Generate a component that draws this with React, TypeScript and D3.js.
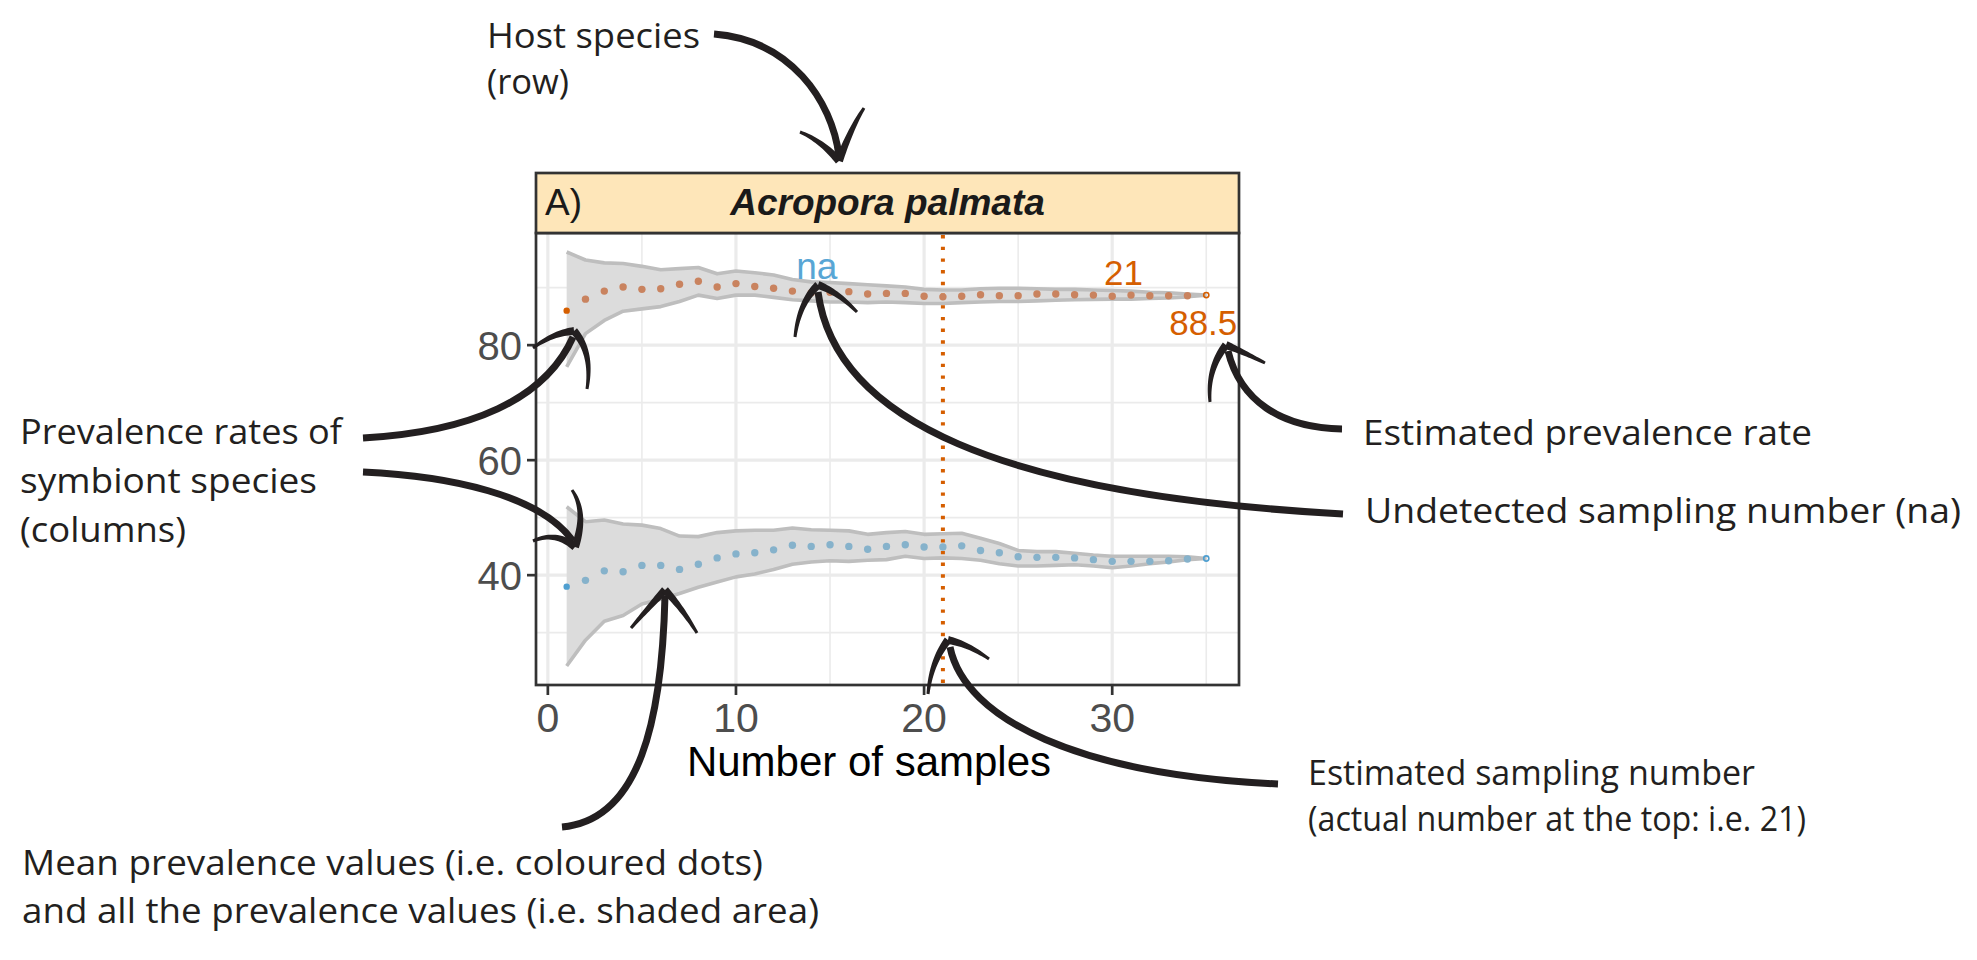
import React from "react";
import * as d3 from "d3";

// ---------- data ----------
const samples = [1, 2, 3, 4, 5, 6, 7, 8, 9, 10, 11, 12, 13, 14, 15, 16, 17, 18, 19, 20, 21, 22, 23, 24, 25, 26, 27, 28, 29, 30, 31, 32, 33, 34, 35];

const orangeMean = [86.0, 88.0, 89.4, 90.1, 89.7, 89.8, 90.6, 91.1, 90.1, 90.7, 90.2, 89.9, 89.4, 89.1, 89.2, 89.3, 88.9, 89.0, 89.0, 88.5, 88.4, 88.5, 88.75, 88.6, 88.6, 88.9, 88.9, 88.75, 88.7, 88.5, 88.7, 88.6, 88.6, 88.6, 88.7];
const orangeUpper = [96.2, 94.8, 94.3, 94.2, 93.7, 93.1, 93.3, 93.5, 92.4, 92.9, 92.6, 92.2, 91.4, 91.0, 90.9, 90.7, 90.5, 90.3, 90.1, 89.7, 89.6, 89.6, 89.8, 89.9, 89.9, 89.8, 89.7, 89.7, 89.6, 89.5, 89.4, 89.2, 89.1, 88.9, 88.7];
const orangeLower = [76.2, 82.0, 84.3, 85.9, 86.3, 86.7, 87.6, 88.7, 88.1, 88.7, 88.7, 88.3, 87.9, 87.7, 87.5, 87.5, 87.4, 87.5, 87.4, 87.25, 87.25, 87.4, 87.5, 87.6, 87.6, 87.7, 87.8, 87.9, 87.95, 88.0, 88.0, 88.1, 88.2, 88.4, 88.7];

const blueMean = [38.0, 39.1, 40.75, 40.6, 41.7, 41.7, 41.0, 41.9, 43.0, 43.7, 43.9, 44.4, 45.2, 45.0, 45.3, 45.0, 44.5, 45.0, 45.3, 44.9, 44.9, 45.1, 44.3, 43.9, 43.2, 43.1, 43.1, 43.0, 42.7, 42.4, 42.4, 42.4, 42.5, 42.8, 42.9];
const blueUpper = [51.9, 49.3, 49.6, 48.9, 48.7, 48.1, 46.8, 46.7, 47.4, 47.7, 47.8, 47.8, 48.2, 47.9, 47.8, 47.7, 47.1, 47.4, 47.6, 47.1, 47.2, 47.3, 46.4, 45.5, 44.3, 44.1, 44.1, 43.8, 43.5, 43.3, 43.3, 43.3, 43.3, 43.2, 42.9];
const blueLower = [24.2, 28.7, 32.0, 33.0, 35.0, 35.8, 36.8, 37.9, 38.8, 39.7, 40.2, 41.0, 41.9, 42.3, 42.5, 42.4, 42.6, 42.7, 43.3, 42.9, 43.0, 42.9, 42.6, 42.0, 41.6, 41.6, 41.7, 41.8, 41.6, 41.3, 41.6, 42.0, 42.3, 42.7, 42.9];

const xMajorTicks = [0, 10, 20, 30];
const xMinorTicks = [5, 15, 25, 35];
const yMajorTicks = [40, 60, 80];
const yMinorTicks = [30, 50, 70, 90];

const hostSpecies = "Acropora palmata";
const panelTag = "A)";
const xAxisTitle = "Number of samples";
const estimatedSampling = 21;
const estimatedPrevalence = "88.5";
const undetectedLabel = "na";

// label anchors in data units [x, y-baseline]
const naLabelPos = [14.3, 91.5];
const samplingLabelPos = [30.6, 90.4];
const prevalenceLabelPos = [34.84, 81.7];

// ---------- helpers ----------
type P = [number, number];

function taper(p0: P, c: P, p1: P, w0: number, w1: number): string {
  const n = 20;
  const left: P[] = [];
  const right: P[] = [];
  for (let i = 0; i <= n; i++) {
    const t = i / n;
    const mt = 1 - t;
    const px = mt * mt * p0[0] + 2 * mt * t * c[0] + t * t * p1[0];
    const py = mt * mt * p0[1] + 2 * mt * t * c[1] + t * t * p1[1];
    const dx = 2 * mt * (c[0] - p0[0]) + 2 * t * (p1[0] - c[0]);
    const dy = 2 * mt * (c[1] - p0[1]) + 2 * t * (p1[1] - c[1]);
    const len = Math.hypot(dx, dy) || 1;
    const nx = -dy / len;
    const ny = dx / len;
    const w = (w0 + (w1 - w0) * t) / 2;
    left.push([px + nx * w, py + ny * w]);
    right.push([px - nx * w, py - ny * w]);
  }
  const pts = left.concat(right.reverse());
  return "M" + pts.map((p) => p[0].toFixed(2) + "," + p[1].toFixed(2)).join("L") + "Z";
}

type Arrow = { shaft: string; tip: P; arms: { end: P; ctrl: P }[] };

const arrows: Arrow[] = [
  // Host species
  { shaft: "M714,34 C790,40 832,100 839,156", tip: [839, 161], arms: [{ end: [800, 132], ctrl: [822, 141] }, { end: [864, 108], ctrl: [851, 128] }] },
  // prevalence upper
  { shaft: "M363,438 C470,432 545,400 573,337", tip: [574, 331], arms: [{ end: [533, 348], ctrl: [553, 333] }, { end: [587, 389], ctrl: [593, 352] }] },
  // prevalence lower
  { shaft: "M363,472 C450,476 540,495 573,541", tip: [575, 547], arms: [{ end: [533, 541], ctrl: [556, 531] }, { end: [572, 490], ctrl: [587, 512] }] },
  // na
  { shaft: "M818,292 C835,420 1000,495 1343,514", tip: [818, 285], arms: [{ end: [795, 337], ctrl: [799, 303] }, { end: [857, 312], ctrl: [838, 292] }] },
  // 88.5
  { shaft: "M1228,351 C1240,400 1280,428 1342,429", tip: [1226, 345], arms: [{ end: [1210, 402], ctrl: [1207, 369] }, { end: [1265, 363], ctrl: [1241, 351] }] },
  // mean
  { shaft: "M665,596 C662,720 640,820 562,827", tip: [665, 590], arms: [{ end: [631, 628], ctrl: [650, 606] }, { end: [697, 633], ctrl: [682, 608] }] },
  // sampling
  { shaft: "M950,647 C965,720 1080,775 1278,784", tip: [948, 640], arms: [{ end: [928, 694], ctrl: [931, 662] }, { end: [989, 659], ctrl: [968, 644] }] },
];

type TextLine = { text: string; x: number; y: number; w: number };
const notes: TextLine[] = [
  { text: "Host species", x: 487, y: 48, w: 213 },
  { text: "(row)", x: 487, y: 94, w: 82 },
  { text: "Prevalence rates of", x: 20, y: 444, w: 322 },
  { text: "symbiont species", x: 20, y: 493, w: 297 },
  { text: "(columns)", x: 20, y: 542, w: 166 },
  { text: "Estimated prevalence rate", x: 1363, y: 445, w: 449 },
  { text: "Undetected sampling number (na)", x: 1365, y: 523, w: 596 },
  { text: "Estimated sampling number", x: 1308, y: 785, w: 447 },
  { text: "(actual number at the top: i.e. 21)", x: 1308, y: 831, w: 498 },
  { text: "Mean prevalence values (i.e. coloured dots)", x: 22, y: 875, w: 741 },
  { text: "and all the prevalence values (i.e. shaded area)", x: 22, y: 923, w: 797 },
];

// ---------- component ----------
export default function App() {
  const W = 1977;
  const H = 960;
  const left = 536, right = 1239, top = 233, bottom = 685, stripTop = 173;
  const x = d3.scaleLinear().domain([-0.63, 36.74]).range([left, right]);
  const y = d3.scaleLinear().domain([20.9, 99.5]).range([bottom, top]);

  const ribbon = (lo: number[], hi: number[]) =>
    d3.area<number>().x((d) => x(d)).y0((_, i) => y(lo[i])).y1((_, i) => y(hi[i]))(samples) || "";
  const edge = (vals: number[]) => d3.line<number>().x((d) => x(d)).y((_, i) => y(vals[i]))(samples) || "";

  const plotFont = "'Liberation Sans', Arial, Helvetica, sans-serif";
  const noteFont = "'Open Sans', 'Noto Sans', sans-serif";
  const ink = "#231F20";

  const series = [
    { mean: orangeMean, lo: orangeLower, hi: orangeUpper, dot: "#C9835F", strong: "#D55E00" },
    { mean: blueMean, lo: blueLower, hi: blueUpper, dot: "#86B2CB", strong: "#4F9FD0" },
  ];

  return (
    <svg width={W} height={H} style={{ position: "absolute", left: 0, top: 0, background: "#ffffff" }} xmlns="http://www.w3.org/2000/svg">
      <rect x={0} y={0} width={W} height={H} fill="#ffffff" />
      {/* panel background */}
      <rect x={left} y={top} width={right - left} height={bottom - top} fill="#ffffff" />
      {/* minor grid */}
      {xMinorTicks.map((t) => (
        <line key={"xm" + t} x1={x(t)} x2={x(t)} y1={top} y2={bottom} stroke="#EBEBEB" strokeWidth={1.6} />
      ))}
      {yMinorTicks.map((t) => (
        <line key={"ym" + t} x1={left} x2={right} y1={y(t)} y2={y(t)} stroke="#EBEBEB" strokeWidth={1.6} />
      ))}
      {/* major grid */}
      {xMajorTicks.map((t) => (
        <line key={"xM" + t} x1={x(t)} x2={x(t)} y1={top} y2={bottom} stroke="#EBEBEB" strokeWidth={3.2} />
      ))}
      {yMajorTicks.map((t) => (
        <line key={"yM" + t} x1={left} x2={right} y1={y(t)} y2={y(t)} stroke="#EBEBEB" strokeWidth={3.2} />
      ))}

      {/* ribbons */}
      {series.map((s, k) => (
        <g key={"rib" + k}>
          <path d={ribbon(s.lo, s.hi)} fill="#DCDCDC" />
          <path d={edge(s.hi)} fill="none" stroke="#BEBEBE" strokeWidth={3.6} strokeLinejoin="round" />
          <path d={edge(s.lo)} fill="none" stroke="#BEBEBE" strokeWidth={3.6} strokeLinejoin="round" />
        </g>
      ))}

      {/* estimated sampling number line */}
      <line x1={x(estimatedSampling)} x2={x(estimatedSampling)} y1={top + 2} y2={bottom} stroke="#D55E00" strokeWidth={4} strokeDasharray="3.4 8.3" />

      {/* mean dots */}
      {series.map((s, k) => (
        <g key={"dots" + k}>
          {samples.map((sx, i) => {
            if (i === 0)
              return <circle key={i} cx={x(sx)} cy={y(s.mean[i])} r={3.2} fill={s.strong} />;
            if (i === samples.length - 1)
              return <circle key={i} cx={x(sx)} cy={y(s.mean[i])} r={2.6} fill="none" stroke={s.strong} strokeWidth={1.6} />;
            return <circle key={i} cx={x(sx)} cy={y(s.mean[i])} r={3.7} fill={s.dot} />;
          })}
        </g>
      ))}

      {/* value labels */}
      <text x={x(naLabelPos[0])} y={y(naLabelPos[1])} textAnchor="middle" fontFamily={plotFont} fontSize={37} fill="#58A6D5">
        {undetectedLabel}
      </text>
      <text x={x(samplingLabelPos[0])} y={y(samplingLabelPos[1])} textAnchor="middle" fontFamily={plotFont} fontSize={35} fill="#D55E00">
        {String(estimatedSampling)}
      </text>
      <text x={x(prevalenceLabelPos[0])} y={y(prevalenceLabelPos[1])} textAnchor="middle" fontFamily={plotFont} fontSize={35} fill="#D55E00">
        {estimatedPrevalence}
      </text>

      {/* panel border */}
      <rect x={left} y={top} width={right - left} height={bottom - top} fill="none" stroke="#333333" strokeWidth={2.7} />

      {/* strip */}
      <rect x={left} y={stripTop} width={right - left} height={top - stripTop} fill="#FEE6B9" stroke="#333333" strokeWidth={2.7} />
      <text x={left + 9} y={215} fontFamily={plotFont} fontSize={37} fill="#1A1A1A">
        {panelTag}
      </text>
      <text x={(left + right) / 2} y={215} textAnchor="middle" fontFamily={plotFont} fontSize={37} fontWeight="bold" fontStyle="italic" fill="#1A1A1A">
        {hostSpecies}
      </text>

      {/* axes ticks */}
      {xMajorTicks.map((t) => (
        <g key={"xt" + t}>
          <line x1={x(t)} x2={x(t)} y1={bottom} y2={bottom + 10} stroke="#333333" strokeWidth={2.7} />
          <text x={x(t)} y={732} textAnchor="middle" fontFamily={plotFont} fontSize={41} fill="#4D4D4D">
            {t}
          </text>
        </g>
      ))}
      {yMajorTicks.map((t) => (
        <g key={"yt" + t}>
          <line x1={left - 9} x2={left} y1={y(t)} y2={y(t)} stroke="#333333" strokeWidth={2.7} />
          <text x={522} y={y(t) + 15} textAnchor="end" fontFamily={plotFont} fontSize={40} fill="#4D4D4D">
            {t}
          </text>
        </g>
      ))}
      <text x={869} y={776} textAnchor="middle" fontFamily={plotFont} fontSize={42} fill="#000000">
        {xAxisTitle}
      </text>

      {/* annotation arrows */}
      {arrows.map((a, k) => (
        <g key={"arr" + k}>
          <path d={a.shaft} fill="none" stroke={ink} strokeWidth={7} strokeLinecap="butt" />
          {a.arms.map((arm, j) => (
            <path key={j} d={taper(a.tip, arm.ctrl, arm.end, 8, 3)} fill={ink} />
          ))}
        </g>
      ))}

      {/* annotation text */}
      {notes.map((n, k) => (
        <text key={"n" + k} x={n.x} y={n.y} fontFamily={noteFont} fontSize={34} fill={ink} textLength={n.w} lengthAdjust="spacingAndGlyphs">
          {n.text}
        </text>
      ))}
    </svg>
  );
}
